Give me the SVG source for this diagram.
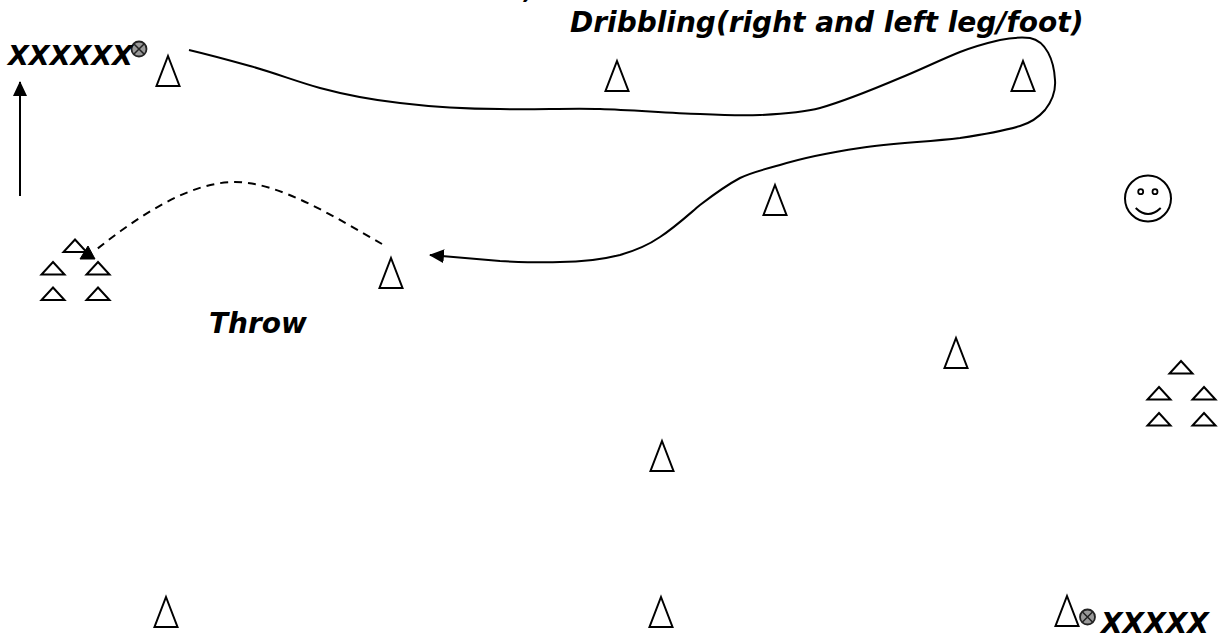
<svg xmlns="http://www.w3.org/2000/svg" width="1222" height="637" viewBox="0 0 1222 637">
<style>
.c{fill:#fff;stroke:#000;stroke-width:2;stroke-linejoin:miter}
.t{font-family:"DejaVu Sans",Verdana,sans-serif;font-weight:bold;font-style:italic;font-size:28px;fill:#000}
.l{fill:none;stroke:#000;stroke-width:2}
.b{fill:#999;stroke:#222;stroke-width:1.8}
.x{stroke:#222;stroke-width:1.5}
</style>
<defs>
<polygon id="cone" class="c" points="0,-15 11.500,15 -11.500,15"/>
<polygon id="small" class="c" points="0,-6 11.500,6.500 -11.500,6.500"/>
<g id="ball"><circle class="b" r="7.500"/><path class="x" d="M-5,-5L5,5M5,-5L-5,5"/></g>
<marker id="ah" markerWidth="16" markerHeight="16" refX="14" refY="7" orient="auto" markerUnits="userSpaceOnUse"><path d="M0,0L15,7L0,14Z" fill="#000"/></marker>
</defs>
<g id="connectors">
<path class="l" d="M189,50C210,55 232,61 250,66C275,73 298,82 320,88C346,95 373,100 400,103C433,107 467,109 500,109C533,110 567,108 600,109C633,110 667,113 700,114C720,115 740,116 760,115C781,114 801,113 820,108C848,100 874,89 900,78C920,70 940,60 960,52C973,47 987,43 1000,40C1010,38 1020,37 1030,38C1046,41 1054,60 1055,80C1056,92 1052,101 1045,110C1038,118 1030,123 1020,126C1000,132 980,135 960,138C927,142 893,143 860,148C833,152 806,157 780,165C766,169 752,172 740,178C725,186 713,195 700,205C687,216 674,228 660,237C647,246 634,251 620,255C600,260 580,262 560,262C540,263 520,262 500,261C477,259 453,257 430,255" marker-end="url(#ah)"/>
<path class="l" stroke-dasharray="8 6" d="M382,244C340,220 280,182 235,182C190,182 140,215 97,249"/>
<polygon points="88,246 95,259 80,259" fill="#000" stroke="#000"/>
<path class="l" d="M20,196L20,82" marker-end="url(#ah)"/>
</g>
<g id="cone1"><use href="#cone" x="168" y="71"/></g>
<g id="cone2"><use href="#cone" x="617" y="76"/></g>
<g id="cone3"><use href="#cone" x="1023" y="76"/></g>
<g id="cone4"><use href="#cone" x="775" y="200"/></g>
<g id="cone5"><use href="#cone" x="391" y="273"/></g>
<g id="cone6"><use href="#cone" x="956" y="353"/></g>
<g id="cone7"><use href="#cone" x="662" y="456"/></g>
<g id="cone8"><use href="#cone" x="166" y="612"/></g>
<g id="cone9"><use href="#cone" x="661" y="612"/></g>
<g id="cone10"><use href="#cone" x="1067" y="611"/></g>
<g id="group-left">
<use href="#small" x="75" y="245.500"/><use href="#small" x="53" y="268"/><use href="#small" x="98" y="268"/><use href="#small" x="53" y="293.500"/><use href="#small" x="98" y="293.500"/>
</g>
<g id="group-right">
<use href="#small" x="1181" y="367"/><use href="#small" x="1159" y="393"/><use href="#small" x="1204" y="393"/><use href="#small" x="1159" y="419"/><use href="#small" x="1204" y="419"/>
</g>
<g id="ball1"><use href="#ball" x="139" y="49"/></g>
<g id="ball2"><use href="#ball" x="1087.500" y="617"/></g>
<g id="smiley">
<circle cx="1148" cy="198.500" r="23" fill="#fff" stroke="#000" stroke-width="2"/>
<circle cx="1140.700" cy="191.700" r="2.500" fill="#fff" stroke="#000" stroke-width="1.800"/>
<circle cx="1155" cy="191.700" r="2.500" fill="#fff" stroke="#000" stroke-width="1.800"/>
<path class="l" d="M1135.700,208Q1148,220 1160.700,208"/>
</g>
<g id="labels">
<text class="t" x="8" y="65" style="font-size:27px">XXXXXX</text>
<text class="t" x="570" y="32">Dribbling(right and left leg/foot)</text>
<text class="t" x="209" y="333">Throw</text>
<text class="t" x="1101" y="633">XXXXX</text>
<text class="t" x="524" y="-2">,</text>
</g>
</svg>
